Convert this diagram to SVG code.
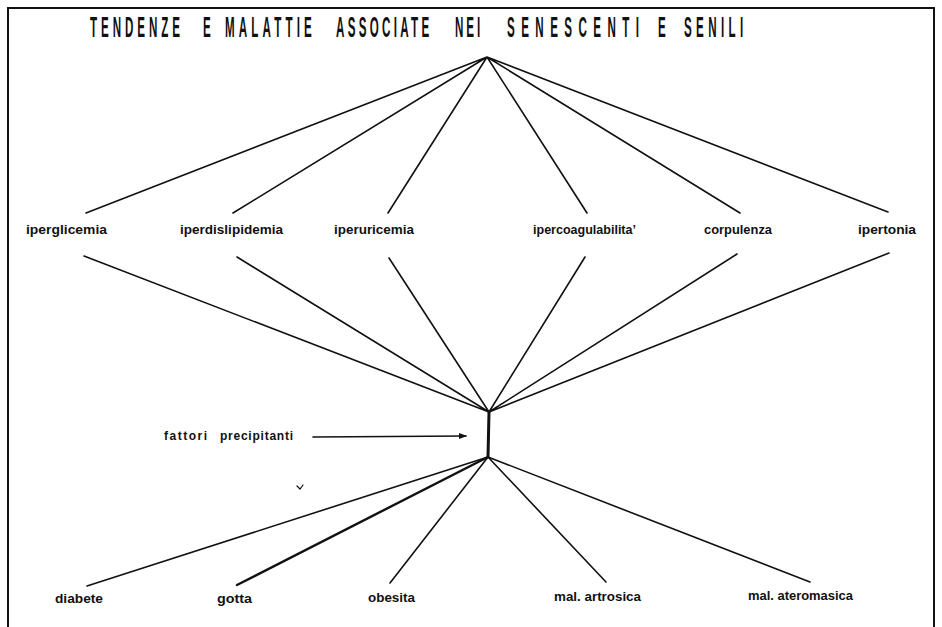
<svg xmlns="http://www.w3.org/2000/svg" width="942" height="627" viewBox="0 0 942 627">
<defs>
<style>
.lbl{font-family:"Liberation Sans",Arial,sans-serif;font-weight:bold;font-size:12px;fill:#111}
.ttl{font-family:"Liberation Sans",sans-serif;font-size:29px;font-weight:bold;fill:#111}
.ln{stroke:#111;stroke-width:1.6;fill:none;stroke-linecap:round}
.frame{stroke:#111;stroke-width:2;fill:none}
</style>
<marker id="ah" markerWidth="8" markerHeight="6" refX="7" refY="3" orient="auto" markerUnits="userSpaceOnUse">
<path d="M0,0 L8,3 L0,6 Z" fill="#111"/>
</marker>
</defs>
<rect x="0" y="0" width="942" height="627" fill="#fff"/>
<path class="frame" d="M8,630 L8,8 L934,8 L934,630"/>
<g id="title">
<text class="ttl" transform="translate(90,37) scale(0.4,1)" x="0" y="0" textLength="225" lengthAdjust="spacing">TENDENZE</text>
<text class="ttl" transform="translate(203,37) scale(0.4,1)" x="0" y="0" textLength="18" lengthAdjust="spacing">E</text>
<text class="ttl" transform="translate(225,37) scale(0.4,1)" x="0" y="0" textLength="217" lengthAdjust="spacing">MALATTIE</text>
<text class="ttl" transform="translate(336,37) scale(0.4,1)" x="0" y="0" textLength="233" lengthAdjust="spacing">ASSOCIATE</text>
<text class="ttl" transform="translate(455,37) scale(0.4,1)" x="0" y="0" textLength="63" lengthAdjust="spacing">NEI</text>
<text class="ttl" transform="translate(507,37) scale(0.4,1)" x="0" y="0" textLength="330" lengthAdjust="spacing">SENESCENTI</text>
<text class="ttl" transform="translate(658,37) scale(0.4,1)" x="0" y="0" textLength="18" lengthAdjust="spacing">E</text>
<text class="ttl" transform="translate(684,37) scale(0.4,1)" x="0" y="0" textLength="148" lengthAdjust="spacing">SENILI</text>
</g>
<g id="connectors">
<path class="ln" d="M487,57 L86,213 M487,57 L233,213 M487,57 L388,213 M487,57 L587,213 M487,57 L740,213 M487,57 L888,212"/>
<path class="ln" d="M84,256 L489,412 M237,257 L489,412 M389,258 L489,412 M585,257 L489,412 M737,254 L489,412 M889,253 L489,412"/>
<path class="ln" style="stroke-width:3" d="M489,412 L488,457"/>
<path class="ln" d="M488,457 L87,586 M488,457 L390,583 M488,457 L606,582 M488,457 L810,582"/>
<path class="ln" style="stroke-width:2.4" d="M488,457 L237,585"/>
<path class="ln" d="M313,437 L466,436" marker-end="url(#ah)"/>
<path class="ln" style="stroke-width:1.2" d="M297,486 L300,489 L303,485"/>
</g>
<g id="n-iperglicemia"><text class="lbl" x="26" y="234" textLength="81" lengthAdjust="spacingAndGlyphs">iperglicemia</text></g>
<g id="n-iperdislipidemia"><text class="lbl" x="180" y="234" textLength="103" lengthAdjust="spacingAndGlyphs">iperdislipidemia</text></g>
<g id="n-iperuricemia"><text class="lbl" x="334" y="234" textLength="80" lengthAdjust="spacingAndGlyphs">iperuricemia</text></g>
<g id="n-ipercoagulabilita"><text class="lbl" x="533" y="234" textLength="103" lengthAdjust="spacingAndGlyphs">ipercoagulabilita’</text></g>
<g id="n-corpulenza"><text class="lbl" x="704" y="234" textLength="68" lengthAdjust="spacingAndGlyphs">corpulenza</text></g>
<g id="n-ipertonia"><text class="lbl" x="858" y="234" textLength="58" lengthAdjust="spacingAndGlyphs">ipertonia</text></g>
<g id="n-fattori"><text class="lbl" x="164" y="440" textLength="43" lengthAdjust="spacing">fattori</text><text class="lbl" x="220" y="440" textLength="73" lengthAdjust="spacing">precipitanti</text></g>
<g id="n-diabete"><text class="lbl" x="55" y="603" textLength="48" lengthAdjust="spacingAndGlyphs">diabete</text></g>
<g id="n-gotta"><text class="lbl" x="217" y="603" textLength="35" lengthAdjust="spacingAndGlyphs">gotta</text></g>
<g id="n-obesita"><text class="lbl" x="368" y="602" textLength="47" lengthAdjust="spacingAndGlyphs">obesita</text></g>
<g id="n-artrosica"><text class="lbl" x="554" y="601" textLength="87" lengthAdjust="spacingAndGlyphs">mal. artrosica</text></g>
<g id="n-ateromasica"><text class="lbl" x="748" y="600" textLength="105" lengthAdjust="spacingAndGlyphs">mal. ateromasica</text></g>
</svg>
